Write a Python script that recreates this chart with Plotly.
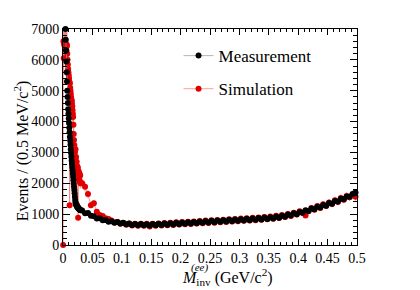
import numpy as np
import plotly.graph_objects as go

# bin centres (GeV/c^2): fine bins at low mass, coarser sampling above
x_low = np.round(np.arange(0.00025, 0.03, 0.0005), 5)
x_high = np.round(np.arange(0.0325, 0.5, 0.005), 4)

meas_low = [None, None, None, None, None, None, None, None,
            7000, 6650, 6300, 5950, 5600, 5300, 5000, 4800, 4600, 4400,
            4250, 4100, 3950, 3800, 3650, 3500, 3380, 3250, 3100, 2980,
            2860, 2740, 2630, 2530, 2420, 2310, 2210, 2100, 1990, 1890,
            1780, 1680, 1560, 1460, 1380, 1340, 1310, 1290, 1270, 1250,
            1240, 1230, 1220, 1200, 1190, 1180, 1170, 1160, 1150, 1140,
            1135, 1130]
meas_high = [1120, 1030, 1035, 945, 935, 860, 865, 800, 810, 755,
             770, 722, 745, 698, 718, 672, 697, 652, 684, 642,
             678, 636, 674, 634, 680, 638, 686, 645, 695, 656,
             705, 666, 718, 676, 728, 686, 738, 697, 748, 706,
             760, 718, 770, 728, 782, 738, 793, 750, 804, 760,
             815, 772, 826, 783, 838, 794, 850, 806, 862, 818,
             873, 830, 888, 845, 902, 860, 922, 884, 950, 916,
             985, 952, 1025, 996, 1072, 1048, 1125, 1100, 1180, 1158,
             1238, 1215, 1298, 1276, 1360, 1340, 1425, 1410, 1497, 1486,
             1575, 1566, 1655, 1700]

sim_low = [0, 6600, 6050, 6550, 6500, 6450, 6600, 6400, 6500, 6450,
           6400, 6300, 6500, 6450, 6200, 6000, 5850, 5700, 5600, 5500,
           5400, 5300, 1290, 5240, 5100, 5000, 4900, 4800, 4700, 4690,
           4600, 4500, 4370, 4250, 4150, 3900, 3600, 3400, 3240, 3100,
           3000, 2700, 3100, 2650, 2850, 2450, 2700, 1300, 2550, 2300,
           2500, 880, 2400, 2150, 2350, 2100, 2300, 2050, 2250, 2000]
sim_high = [2000, 1890, 1650, 1290, 1350, 1080, 970, 940, 870, 840,
            790, 730, 745, 690, 715, 660, 700, 635, 690, 625,
            690, 620, 685, 600, 690, 625, 700, 632, 712, 640,
            722, 650, 735, 662, 745, 672, 755, 684, 765, 695,
            778, 705, 790, 715, 800, 725, 812, 738, 822, 748,
            835, 760, 845, 772, 858, 782, 870, 795, 882, 806,
            895, 818, 908, 835, 925, 850, 945, 872, 972, 905,
            1005, 940, 1045, 985, 1090, 1035, 960, 1090, 1200, 1145,
            1260, 1200, 1320, 1262, 1380, 1325, 1448, 1395, 1520, 1470,
            1590, 1548, 1640, 1560]

x_tick_vals = [0, 0.05, 0.1, 0.15, 0.2, 0.25, 0.3, 0.35, 0.4, 0.45, 0.5]
x_tick_text = ["0", "0.05", "0.1", "0.15", "0.2", "0.25", "0.3", "0.35", "0.4", "0.45", "0.5"]
y_tick_vals = [0, 1000, 2000, 3000, 4000, 5000, 6000, 7000]

x_all = list(x_low) + list(x_high)
meas = meas_low + meas_high
sim = sim_low + sim_high

FONT = "Liberation Serif, Times New Roman, serif"

fig = go.Figure()
fig.add_trace(go.Scatter(
    x=x_all, y=sim, name="Simulation", mode="lines+markers",
    line=dict(color="rgba(255,120,120,0.75)", width=1),
    marker=dict(color="#e00000", size=6),
    error_y=dict(type="percent", value=8, color="rgba(255,120,120,0.75)", thickness=1, width=0),
    legendgroup="s", legendrank=2, cliponaxis=False,
))
fig.add_trace(go.Scatter(
    x=x_all, y=meas, name="Measurement", mode="lines+markers",
    line=dict(color="rgba(150,150,150,0.7)", width=1),
    marker=dict(color="black", size=6),
    error_y=dict(type="sqrt", color="rgba(150,150,150,0.8)", thickness=1, width=0),
    legendgroup="m", legendrank=1, cliponaxis=False,
))

axis_common = dict(
    showline=True, linecolor="black", linewidth=1, mirror="ticks",
    ticks="inside", tickcolor="black", showgrid=False, zeroline=False,
    automargin=False,
    tickfont=dict(family=FONT, size=14, color="black"),
)
fig.update_xaxes(
    range=[0, 0.5], tickvals=x_tick_vals, ticktext=x_tick_text, ticklen=6,
    minor=dict(dtick=0.01, ticklen=3, ticks="inside", tickcolor="black"),
    **axis_common,
)
fig.update_yaxes(
    range=[0, 7000], tickvals=y_tick_vals, tickformat="d", ticklen=7,
    minor=dict(dtick=200, ticklen=4, ticks="inside", tickcolor="black"),
    **axis_common,
)
# axis titles as annotations for exact placement
fig.add_annotation(
    text="Events / (0.5 MeV/c<sup>2</sup>)", xref="paper", yref="paper",
    x=-0.142, y=0.435, xanchor="center", yanchor="middle", textangle=-90,
    showarrow=False, font=dict(family=FONT, size=16, color="black"),
)
fig.add_annotation(
    text="<i>M</i><sub>inv</sub> (GeV/c<sup>2</sup>)", xref="paper", yref="paper",
    x=0.398, y=-0.146, xanchor="left", yanchor="middle",
    showarrow=False, font=dict(family=FONT, size=16, color="black"),
)
fig.add_annotation(
    text="<i>(ee)</i>", xref="paper", yref="paper", x=0.463, y=-0.103,
    xanchor="center", yanchor="middle",
    showarrow=False, font=dict(family=FONT, size=11, color="black"),
)
fig.update_layout(
    width=412, height=282,
    margin=dict(l=55, r=63, t=21, b=45),
    paper_bgcolor="white", plot_bgcolor="white",
    legend=dict(x=0.393, y=0.958, xanchor="left", yanchor="top",
                font=dict(family=FONT, size=17, color="black"),
                bgcolor="rgba(0,0,0,0)", tracegroupgap=8),
    showlegend=True,
)
fig.write_html("out.html")
